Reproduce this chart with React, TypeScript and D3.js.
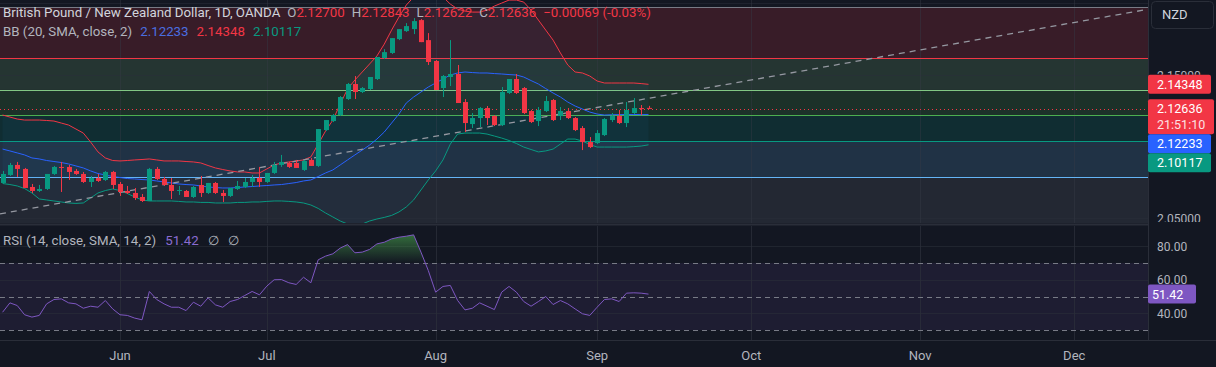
import * as d3 from "d3";

// GBP/NZD daily, OANDA — bar 0 = 3 Jun, one bar per trading day
const FIRST_BAR = -16;

const OPEN = [
  2.0745, 2.0801, 2.0871, 2.0843, 2.0717, 2.0689, 2.0703, 2.0808, 2.0857, 2.0857,
  2.0829, 2.0808, 2.0752, 2.078, 2.0766, 2.0822, 2.0738, 2.0689, 2.0675, 2.0647,
  2.0619, 2.0843, 2.0773, 2.0731, 2.0689, 2.0689, 2.0647, 2.0731, 2.0675, 2.0745,
  2.0675, 2.0654, 2.0703, 2.0717, 2.0752, 2.078, 2.0752, 2.0815, 2.0871, 2.0885,
  2.0885, 2.0836, 2.0906, 2.0864, 2.1115, 2.1178, 2.122, 2.1332, 2.1437, 2.1381,
  2.1402, 2.1472, 2.1619, 2.1654, 2.1751, 2.1807, 2.1821, 2.1884, 2.1744, 2.1598,
  2.1409, 2.1486, 2.1507, 2.1311, 2.1157, 2.1199, 2.1269, 2.1213, 2.115, 2.1374,
  2.1472, 2.1409, 2.1248, 2.1178, 2.1248, 2.1325, 2.1213, 2.1248, 2.1199, 2.1129,
  2.1031, 2.1024, 2.108, 2.1185, 2.1213, 2.1164, 2.1234, 2.1269, 2.127,
];
const HIGH = [
  2.0829, 2.0885, 2.0892, 2.085, 2.0738, 2.0731, 2.0808, 2.0864, 2.0892, 2.0871,
  2.0843, 2.0822, 2.0794, 2.0808, 2.0829, 2.0829, 2.0752, 2.0724, 2.071, 2.0668,
  2.085, 2.0857, 2.0787, 2.078, 2.0724, 2.0696, 2.0724, 2.0794, 2.0745, 2.0752,
  2.0696, 2.071, 2.0759, 2.078, 2.0801, 2.0857, 2.0815, 2.0892, 2.0941, 2.0892,
  2.0906, 2.0906, 2.092, 2.1122, 2.1185, 2.1227, 2.1353, 2.1444, 2.1493, 2.1416,
  2.1486, 2.1626, 2.1681, 2.1758, 2.1821, 2.1863, 2.1898, 2.1891, 2.1793, 2.1605,
  2.15, 2.1744, 2.157, 2.1332, 2.1234, 2.1276, 2.1283, 2.122, 2.1416, 2.1472,
  2.1507, 2.1416, 2.1255, 2.1276, 2.1353, 2.1332, 2.1276, 2.1269, 2.1206, 2.1143,
  2.1066, 2.1115, 2.1199, 2.1234, 2.1255, 2.1311, 2.1339, 2.129, 2.12843,
];
const LOW = [
  2.0738, 2.0794, 2.0787, 2.071, 2.0675, 2.0682, 2.0696, 2.0801, 2.0682, 2.0766,
  2.0801, 2.0745, 2.0717, 2.0752, 2.0759, 2.0703, 2.0654, 2.0668, 2.0626, 2.0612,
  2.0619, 2.0766, 2.0724, 2.0633, 2.0661, 2.0647, 2.064, 2.0647, 2.0668, 2.0668,
  2.0612, 2.0647, 2.0696, 2.071, 2.0717, 2.0717, 2.0745, 2.0808, 2.0857, 2.085,
  2.085, 2.0829, 2.0864, 2.0857, 2.1108, 2.1171, 2.1213, 2.1325, 2.1332, 2.1374,
  2.1395, 2.1465, 2.1612, 2.1647, 2.1744, 2.1801, 2.1786, 2.173, 2.157, 2.1395,
  2.1346, 2.1423, 2.1304, 2.1101, 2.1129, 2.1136, 2.115, 2.1143, 2.1143, 2.1367,
  2.1367, 2.1227, 2.1164, 2.1143, 2.1241, 2.1178, 2.1185, 2.1192, 2.1108, 2.0975,
  2.0989, 2.1017, 2.1073, 2.1171, 2.1157, 2.1136, 2.1227, 2.122, 2.12622,
];
const CLOSE = [
  2.0808, 2.0871, 2.0843, 2.071, 2.0689, 2.0703, 2.0808, 2.0857, 2.085, 2.0822,
  2.0808, 2.0752, 2.078, 2.0759, 2.0822, 2.0731, 2.0682, 2.0675, 2.064, 2.0619,
  2.0843, 2.0773, 2.0731, 2.0689, 2.0696, 2.0647, 2.0717, 2.0675, 2.0745, 2.0675,
  2.0654, 2.071, 2.0724, 2.0752, 2.078, 2.0752, 2.0815, 2.0871, 2.0892, 2.0857,
  2.085, 2.0899, 2.0864, 2.1122, 2.1185, 2.122, 2.1346, 2.1437, 2.1381, 2.1409,
  2.1486, 2.1626, 2.166, 2.1758, 2.1821, 2.1842, 2.1877, 2.173, 2.1591, 2.1395,
  2.1493, 2.1507, 2.1304, 2.1164, 2.1199, 2.1269, 2.1199, 2.115, 2.1381, 2.1472,
  2.1374, 2.1234, 2.1171, 2.1255, 2.1318, 2.1185, 2.1248, 2.1199, 2.1115, 2.1031,
  2.0996, 2.1094, 2.1192, 2.1213, 2.1164, 2.1255, 2.1269, 2.1262, 2.12636,
];

const BB_UPPER = [
  2.122, 2.1206, 2.1192, 2.1185, 2.1185, 2.1185, 2.1182, 2.1178, 2.1164, 2.115,
  2.1122, 2.1094, 2.1031, 2.0962, 2.092, 2.0902, 2.0899, 2.0902, 2.0906, 2.0909,
  2.0913, 2.0906, 2.0899, 2.0899, 2.0899, 2.0895, 2.0892, 2.0885, 2.0867, 2.085,
  2.0839, 2.0829, 2.0822, 2.0822, 2.0815, 2.0815, 2.0843, 2.0871, 2.0885, 2.0892,
  2.0899, 2.0906, 2.0927, 2.1017, 2.1108, 2.1185, 2.1297, 2.1402, 2.1465, 2.1521,
  2.1577, 2.1633, 2.1716, 2.1814, 2.1905, 2.1989, 2.2045, 2.208, 2.2087, 2.208,
  2.2045, 2.1996, 2.1961, 2.1947, 2.194, 2.194, 2.1954, 2.1982, 2.2003, 2.2024,
  2.2024, 2.201, 2.1954, 2.1884, 2.1814, 2.1744, 2.1654, 2.157, 2.1521, 2.1514,
  2.1493, 2.1458, 2.1444, 2.1444, 2.1444, 2.1444, 2.1444, 2.144, 2.14348,
];
const BB_BASIS = [
  2.0982, 2.0969, 2.0955, 2.0941, 2.092, 2.0913, 2.0902, 2.0895, 2.0888, 2.0878,
  2.0864, 2.085, 2.0829, 2.0811, 2.0801, 2.079, 2.0783, 2.0776, 2.0773, 2.0769,
  2.0766, 2.0759, 2.0752, 2.0745, 2.0738, 2.0734, 2.0731, 2.0724, 2.0717, 2.0713,
  2.071, 2.071, 2.0713, 2.0717, 2.072, 2.0724, 2.0727, 2.0731, 2.0734, 2.0741,
  2.0748, 2.0759, 2.0766, 2.079, 2.0815, 2.0836, 2.0871, 2.0906, 2.0941, 2.0975,
  2.101, 2.1052, 2.1101, 2.1164, 2.1227, 2.1304, 2.1346, 2.1381, 2.1416, 2.1444,
  2.1472, 2.15, 2.1514, 2.1521, 2.1517, 2.1514, 2.1514, 2.151, 2.1507, 2.1503,
  2.15, 2.1486, 2.1461, 2.1437, 2.1405, 2.1374, 2.1346, 2.1311, 2.1283, 2.1262,
  2.1241, 2.1227, 2.122, 2.1222, 2.1223, 2.1224, 2.1224, 2.1223, 2.12233,
];
const BB_LOWER = [
  2.0741, 2.0734, 2.0724, 2.0706, 2.0675, 2.0633, 2.0626, 2.0619, 2.0612, 2.0605,
  2.0602, 2.0605, 2.064, 2.0675, 2.0692, 2.0703, 2.0692, 2.0671, 2.0647, 2.0626,
  2.0619, 2.0619, 2.0619, 2.0619, 2.0616, 2.0612, 2.0612, 2.0609, 2.0609, 2.0605,
  2.0605, 2.0605, 2.0609, 2.0609, 2.0612, 2.0612, 2.0616, 2.0619, 2.0619, 2.0616,
  2.0612, 2.0605, 2.0591, 2.0567, 2.0535, 2.0507, 2.0479, 2.0458, 2.0451, 2.0458,
  2.0479, 2.0493, 2.0504, 2.0518, 2.0542, 2.0577, 2.0626, 2.0696, 2.0766, 2.0829,
  2.0906, 2.1017, 2.1087, 2.1094, 2.1094, 2.1094, 2.1087, 2.1073, 2.1059, 2.1042,
  2.1021, 2.0996, 2.0979, 2.0962, 2.0969, 2.0982, 2.1017, 2.1052, 2.1052, 2.1038,
  2.1014, 2.0996, 2.0996, 2.0996, 2.0996, 2.0996, 2.0999, 2.1003, 2.10117,
];

const RSI = [
  40.6, 46.2, 44.6, 39.1, 37.7, 38.7, 45.6, 48.2, 48.6, 46.2,
  45.6, 43.0, 44.2, 43.6, 47.6, 42.6, 39.1, 38.7, 37.1, 36.1,
  53.0, 48.2, 45.6, 43.6, 43.6, 41.6, 46.6, 44.2, 49.2, 45.0,
  43.6, 47.0, 48.2, 50.6, 53.0, 51.0, 56.2, 60.0, 60.1, 58.2,
  57.2, 61.5, 58.2, 71.9, 74.1, 75.5, 78.9, 81.0, 76.1, 76.5,
  78.1, 81.4, 82.4, 84.4, 85.4, 86.0, 86.8, 76.5, 65.5, 52.6,
  56.0, 56.6, 47.6, 42.0, 43.0, 46.2, 44.2, 42.2, 52.6, 56.0,
  52.6, 47.0, 44.2, 47.0, 50.0, 45.2, 47.6, 45.6, 42.6, 39.7,
  38.7, 43.6, 48.2, 48.6, 47.0, 52.0, 52.2, 52.0, 51.42,
];

const MONTHS = ["Jun", "Jul", "Aug", "Sep", "Oct", "Nov", "Dec"];
const MONTH_BARS = [0, 20, 43, 65, 86, 109, 130];

const PRICE_GRID = [2.05, 2.1, 2.15, 2.2];
const PRICE_LABELS = [2.15, 2.05];
const RSI_GRID = [40, 60, 80];
const RSI_LEVELS = [70, 50, 30];

// fib retracement drawing
const FIB_TOP = 2.1973;
const FIB_BOTTOM = 2.0461;
const FIB_LEVELS = [0, 0.236, 0.382, 0.5, 0.618, 0.786, 1];
const FIB_COLORS = ["#787b86", "#f23645", "#81c784", "#4caf50", "#089981", "#64b5f6", "#787b86"];

// dashed trend line anchors (bar, price)
const TREND_BARS = [-16, 140];
const TREND_PRICES = [2.0532, 2.1959];

const LAST = { open: 2.127, high: 2.12843, low: 2.12622, close: 2.12636, change: -0.00069, pct: -0.03 };
const BB_LAST = { basis: 2.12233, upper: 2.14348, lower: 2.10117 };
const RSI_LAST = 51.42;
const COUNTDOWN = "21:51:10";

const W = 1216;
const H = 367;
const PLOT_W = 1148;
const MAIN_BOTTOM = 223;
const RSI_TOP = 226;
const RSI_BOTTOM = 340;
const FONT = "Roboto, 'Noto Sans', Arial, sans-serif";
const BG = "#131722";
const GRID = "#2a2e39";
const TEXT = "#b2b5be";
const UP = "#089981";
const DOWN = "#f23645";
const BLUE = "#2962ff";
const PURPLE = "#7e57c2";

export default function App() {
  const x = d3.scaleLinear().domain([-16.35, 140.05]).range([0, PLOT_W]);
  const y = d3.scaleLinear().domain([2.05, 2.15]).range([218, 75]);
  const yR = d3.scaleLinear().domain([30, 70]).range([330, 263]);
  const fmt = d3.format(".5f");

  const bx = (i: number) => x(FIRST_BAR + i);
  const priceLine = d3.line<number>().x((_, i) => bx(i)).y((v) => y(v));
  const rsiLine = d3.line<number>().x((_, i) => bx(i)).y((v) => yR(v));
  const rsiArea = d3.area<number>().x((_, i) => bx(i)).y0(yR(70)).y1((v) => yR(v));
  const bbFill = d3
    .area<number>()
    .x((_, i) => bx(i))
    .y0((_, i) => y(BB_LOWER[i]))
    .y1((v) => y(v));

  const fibY = FIB_LEVELS.map((lv) => y(FIB_TOP - lv * (FIB_TOP - FIB_BOTTOM)));

  const trend = d3.scaleLinear().domain(TREND_BARS).range(TREND_PRICES);
  const tx0 = x.invert(0);
  const tx1 = x.invert(PLOT_W);

  // axis label boxes, pushed down when they overlap
  const boxes = [
    { value: BB_LAST.upper, color: DOWN, lines: [fmt(BB_LAST.upper)] },
    { value: LAST.close, color: DOWN, lines: [fmt(LAST.close), COUNTDOWN] },
    { value: BB_LAST.basis, color: BLUE, lines: [fmt(BB_LAST.basis)] },
    { value: BB_LAST.lower, color: UP, lines: [fmt(BB_LAST.lower)] },
  ].sort((a, b) => b.value - a.value);
  let prev = -Infinity;
  const placed = boxes.map((b) => {
    const h = b.lines.length === 1 ? 19 : 35;
    const top = Math.max(y(b.value) - 9.5, prev);
    prev = top + h;
    return { ...b, top, h };
  });
  const firstBoxTop = placed[0].top;

  const bodyW = 5;

  return (
    <div style={{ width: W, height: H }}>
      <style>{`body{margin:0;background:${BG}}`}</style>
      <svg width={W} height={H} style={{ display: "block", fontFamily: FONT }}>
        <defs>
          <clipPath id="main">
            <rect x={0} y={0} width={PLOT_W} height={MAIN_BOTTOM} />
          </clipPath>
          <clipPath id="ob">
            <rect x={0} y={RSI_TOP} width={PLOT_W} height={yR(70) - RSI_TOP} />
          </clipPath>
          <clipPath id="axisTop">
            <rect x={PLOT_W} y={0} width={W - PLOT_W} height={firstBoxTop} />
          </clipPath>
          <clipPath id="axisBottom">
            <rect x={PLOT_W} y={prev} width={W - PLOT_W} height={MAIN_BOTTOM - 1 - prev} />
          </clipPath>
          <linearGradient id="obGrad" gradientUnits="userSpaceOnUse" x1={0} x2={0} y1={yR(100)} y2={yR(70)}>
            <stop offset="0" stopColor="#4caf50" stopOpacity={1} />
            <stop offset="1" stopColor="#4caf50" stopOpacity={0} />
          </linearGradient>
        </defs>

        <rect width={W} height={H} fill={BG} />

        {/* main pane */}
        <g clipPath="url(#main)">
          {FIB_LEVELS.slice(1).map((lv, i) => (
            <rect
              key={lv}
              x={0}
              y={fibY[i]}
              width={PLOT_W}
              height={fibY[i + 1] - fibY[i]}
              fill={FIB_COLORS[i + 1]}
              opacity={0.17}
            />
          ))}
          {PRICE_GRID.map((p) => (
            <line key={p} x1={0} x2={PLOT_W} y1={Math.round(y(p)) + 0.5} y2={Math.round(y(p)) + 0.5} stroke={GRID} strokeOpacity={0.5} />
          ))}
          {MONTH_BARS.map((b) => (
            <line key={b} x1={Math.round(x(b)) + 0.5} x2={Math.round(x(b)) + 0.5} y1={0} y2={MAIN_BOTTOM} stroke="#363a45" strokeOpacity={0.45} />
          ))}
          {FIB_LEVELS.map((lv, i) => (
            <line
              key={lv}
              x1={0}
              x2={PLOT_W}
              y1={Math.round(fibY[i]) + 0.5}
              y2={Math.round(fibY[i]) + 0.5}
              stroke={FIB_COLORS[i]}
              strokeWidth={1}
            />
          ))}

          <path d={bbFill(BB_UPPER) ?? ""} fill="#2196f3" opacity={0.05} />
          <path d={priceLine(BB_UPPER) ?? ""} fill="none" stroke={DOWN} strokeWidth={1} />
          <path d={priceLine(BB_BASIS) ?? ""} fill="none" stroke={BLUE} strokeWidth={1} />
          <path d={priceLine(BB_LOWER) ?? ""} fill="none" stroke={UP} strokeWidth={1} />

          <line
            x1={0}
            x2={PLOT_W}
            y1={y(trend(tx0))}
            y2={y(trend(tx1))}
            stroke="#9598a1"
            strokeWidth={1.3}
            strokeDasharray="6 5"
          />

          <line
            x1={0}
            x2={PLOT_W}
            y1={Math.round(y(LAST.close)) + 0.5}
            y2={Math.round(y(LAST.close)) + 0.5}
            stroke={DOWN}
            strokeDasharray="1 3"
          />

          {CLOSE.map((c, i) => {
            const o = OPEN[i];
            const col = c >= o ? UP : DOWN;
            const cx = Math.round(bx(i));
            const top = y(Math.max(o, c));
            const bot = y(Math.min(o, c));
            return (
              <g key={i}>
                <line x1={cx + 0.5} x2={cx + 0.5} y1={y(HIGH[i])} y2={y(LOW[i])} stroke={col} />
                <rect x={cx - 2} y={top} width={bodyW} height={Math.max(1, bot - top)} fill={col} />
              </g>
            );
          })}
        </g>

        {/* main pane legend */}
        <text x={3} y={16.5} fontSize={13.3} fill={TEXT}>
          <tspan fill="#d1d4dc">British Pound / New Zealand Dollar, 1D, OANDA</tspan>
          <tspan dx={7}>O</tspan>
          <tspan fill={DOWN}>{fmt(LAST.open)}</tspan>
          <tspan dx={7}>H</tspan>
          <tspan fill={DOWN}>{fmt(LAST.high)}</tspan>
          <tspan dx={7}>L</tspan>
          <tspan fill={DOWN}>{fmt(LAST.low)}</tspan>
          <tspan dx={7}>C</tspan>
          <tspan fill={DOWN}>{fmt(LAST.close)}</tspan>
          <tspan dx={7} fill={DOWN}>{`${fmt(LAST.change)} (${LAST.pct.toFixed(2)}%)`}</tspan>
        </text>
        <text x={3} y={35.5} fontSize={13.3} fill={TEXT}>
          <tspan>BB (20, SMA, close, 2)</tspan>
          <tspan dx={8} fill="#4a6ee0">{fmt(BB_LAST.basis)}</tspan>
          <tspan dx={8} fill={DOWN}>{fmt(BB_LAST.upper)}</tspan>
          <tspan dx={8} fill={UP}>{fmt(BB_LAST.lower)}</tspan>
        </text>

        {/* pane separator */}
        <line x1={0} x2={PLOT_W} y1={MAIN_BOTTOM + 1.5} y2={MAIN_BOTTOM + 1.5} stroke={GRID} strokeWidth={2} />

        {/* RSI pane */}
        <rect x={0} y={yR(70)} width={PLOT_W} height={yR(30) - yR(70)} fill={PURPLE} opacity={0.1} />
        {RSI_GRID.map((v) => (
          <line key={v} x1={0} x2={PLOT_W} y1={Math.round(yR(v)) + 0.5} y2={Math.round(yR(v)) + 0.5} stroke={GRID} strokeOpacity={0.6} />
        ))}
        {MONTH_BARS.map((b) => (
          <line key={b} x1={Math.round(x(b)) + 0.5} x2={Math.round(x(b)) + 0.5} y1={RSI_TOP} y2={RSI_BOTTOM} stroke={GRID} strokeOpacity={0.8} />
        ))}
        {RSI_LEVELS.map((v) => (
          <line key={v} x1={0} x2={PLOT_W} y1={Math.round(yR(v)) + 0.5} y2={Math.round(yR(v)) + 0.5} stroke="#787b86" strokeDasharray="5 4" />
        ))}
        <path d={rsiArea(RSI) ?? ""} fill="url(#obGrad)" clipPath="url(#ob)" />
        <path d={rsiLine(RSI) ?? ""} fill="none" stroke={PURPLE} strokeWidth={1} />

        <text x={3} y={244.5} fontSize={13.3} fill={TEXT}>
          <tspan>RSI (14, close, SMA, 14, 2)</tspan>
          <tspan dx={9} fill="#8a6bd1">{RSI_LAST.toFixed(2)}</tspan>
          <tspan dx={9}>∅</tspan>
          <tspan dx={9}>∅</tspan>
        </text>

        {/* time axis */}
        <line x1={0} x2={W} y1={RSI_BOTTOM + 0.5} y2={RSI_BOTTOM + 0.5} stroke={GRID} />
        {MONTHS.map((m, i) => (
          <text key={m} x={x(MONTH_BARS[i])} y={359.5} fontSize={13} fill={TEXT} textAnchor="middle">
            {m}
          </text>
        ))}

        {/* price axis */}
        <line x1={PLOT_W + 0.5} x2={PLOT_W + 0.5} y1={0} y2={RSI_BOTTOM} stroke={GRID} />
        {PRICE_LABELS.map((p) => (
          <g key={p} clipPath={y(p) < firstBoxTop + 10 ? "url(#axisTop)" : "url(#axisBottom)"}>
            <text x={1157} y={y(p) + 4.5} fontSize={12} fill={TEXT}>
              {fmt(p)}
            </text>
          </g>
        ))}
        <rect x={1151.5} y={1.5} width={62} height={27} rx={4} fill={BG} stroke="#2a2e39" />
        <text x={1162} y={19} fontSize={13} fill="#d1d4dc">
          NZD
        </text>
        {placed.map((b) => (
          <g key={b.lines[0]}>
            <rect x={PLOT_W} y={b.top} width={b.lines.length > 1 ? 66 : 63} height={b.h} rx={2} fill={b.color} />
            {b.lines.map((t, j) => (
              <text key={t} x={1157} y={b.top + 14 + j * 15.5} fontSize={12.5} fill="#ffffff" opacity={j ? 0.85 : 1}>
                {t}
              </text>
            ))}
          </g>
        ))}

        {RSI_GRID.map((v) => (
          <text key={v} x={1157} y={yR(v) + 4.5} fontSize={12} fill={TEXT}>
            {v.toFixed(2)}
          </text>
        ))}
        <rect x={PLOT_W} y={yR(RSI_LAST) - 9.5} width={48} height={19} rx={2} fill={PURPLE} />
        <text x={1152} y={yR(RSI_LAST) + 4.5} fontSize={12.5} fill="#ffffff">
          {RSI_LAST.toFixed(2)}
        </text>
      </svg>
    </div>
  );
}
